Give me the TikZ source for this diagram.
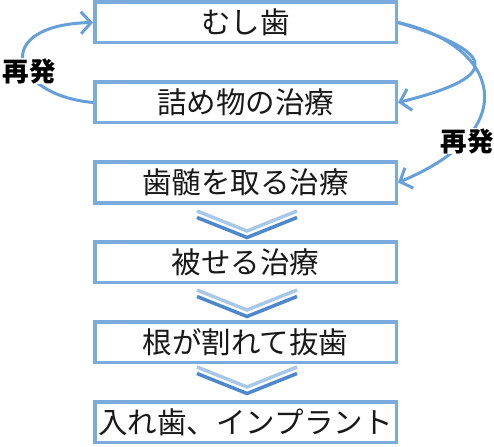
\documentclass[tikz,border=0pt]{standalone}
\usepackage{fontspec}
\newfontfamily\jp{Noto Sans CJK JP}
\usetikzlibrary{arrows.meta}
\definecolor{boxblue}{HTML}{7BAADC}
\definecolor{arrblue}{HTML}{66A0DA}
\definecolor{chevlight}{HTML}{A8C8E9}
\definecolor{chevdark}{HTML}{4D88CF}
\tikzset{
  stagebox/.style={draw=boxblue, line width=3.5pt, fill=white, minimum width=301.5pt, minimum height=40.5pt, inner sep=0pt, font=\jp\fontsize{29.5}{30}\selectfont, text=black!90},
  relapse/.style={draw=arrblue, line width=3pt, -{Straight Barb[length=10pt,width=22pt,line width=3pt]}},
  relapselabel/.style={fill=white, inner sep=0.5pt, font=\jp\bfseries\fontsize{26.5}{27}\selectfont, text=black},
  chevlight/.style={draw=chevlight, line width=3.5pt},
  chevdark/.style={draw=chevdark, line width=3.5pt},
}
\begin{document}
\begin{tikzpicture}[x=1pt,y=-1pt]
\useasboundingbox (0,0) rectangle (494,446);
% boxes
\node[stagebox] (b1) at (245.5,22.5) {むし歯};
\node[stagebox] (b2) at (245.5,102.5) {詰め物の治療};
\node[stagebox] (b3) at (245.5,182.5) {歯髄を取る治療};
\node[stagebox] (b4) at (245.5,262) {被せる治療};
\node[stagebox] (b5) at (245.5,342) {根が割れて抜歯};
\node[stagebox] (b6) at (245.5,422) {入れ歯、インプラント};
% relapse arrows
\draw[relapse] (b2.west) .. controls (10,95) and (-10,25) .. (b1.west);
\draw[relapse] (b1.east) .. controls (490,50) and (510,75) .. (b2.east);
\draw[relapse] (b1.east) .. controls (500,45) and (525,130) .. (b3.east);
\node[relapselabel] (l1) at (29,71) {再発};
\node[relapselabel] (l2) at (467,141) {再発};
% chevrons
\foreach \t [count=\i] in {211,290,367}{
  \draw[chevlight] (197,\t) coordinate (cl\i) -- (247,\t+20) -- (297,\t);
  \draw[chevdark] (197,\t+6.5) -- (247,\t+26.5) -- (297,\t+6.5);
}
\end{tikzpicture}
\end{document}
